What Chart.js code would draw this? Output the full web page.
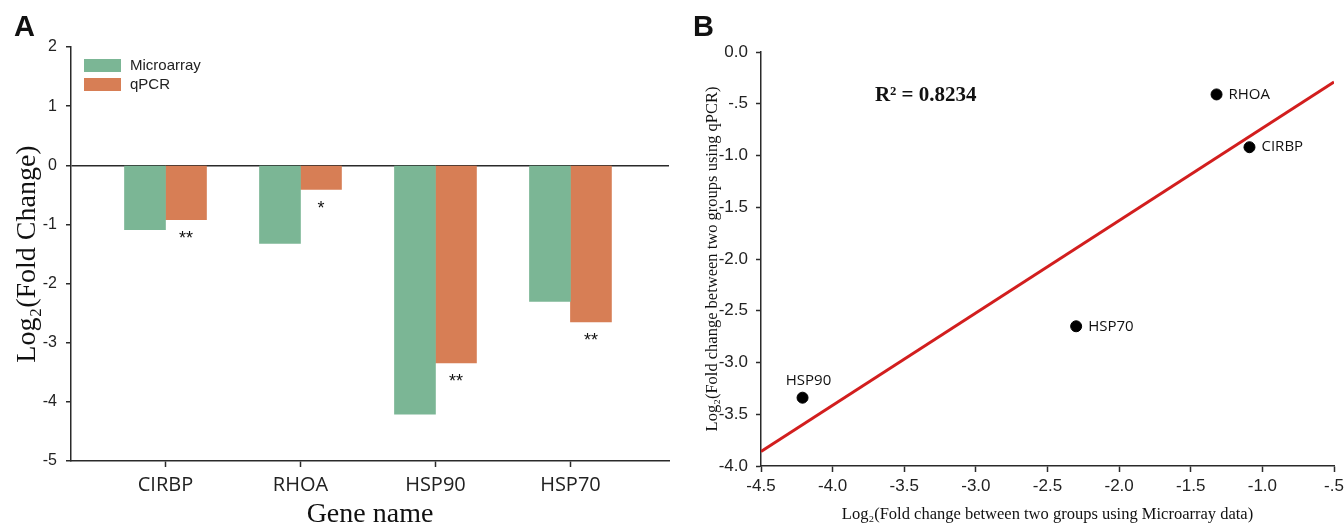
<!DOCTYPE html>
<html>
<head>
<meta charset="utf-8">
<script src="https://cdn.jsdelivr.net/npm/chart.js@4.4.1/dist/chart.umd.min.js"></script>
<style>
  body { margin: 0; background: #fff; overflow: hidden; }
  #wrap { position: relative; width: 1344px; height: 527px; overflow: hidden; }
  .panel { position: absolute; top: 0; }
  .letter { position: absolute; font: bold 29px 'Liberation Sans', Arial, sans-serif; color: #111; }
</style>
</head>
<body>
<div id="wrap">
  <div class="panel" style="left:0"><canvas id="barChart" width="680" height="527"></canvas></div>
  <div class="panel" style="left:680px"><canvas id="scatterChart" width="690" height="527"></canvas></div>
  <div class="letter" style="left:14px;top:10px">A</div>
  <div class="letter" style="left:693px;top:10px">B</div>
</div>
<script>
// data
const genes = ['CIRBP', 'RHOA', 'HSP90', 'HSP70'];
const microarray = [-1.09, -1.32, -4.21, -2.30];
const qpcr = [-0.92, -0.41, -3.34, -2.65];
const significance = ['**', '*', '**', '**'];
const fitLine = [{ x: -4.5, y: -3.86 }, { x: -0.5, y: -0.29 }];
const rSquaredText = 'R² = 0.8234';

const green = '#7bb695';
const orange = '#d77e55';
const axisColor = '#2a2a2a';
const sans = "'Liberation Sans', Arial, sans-serif";
const serif = "'Liberation Serif', 'Times New Roman', serif";
const labelSans = "'Open Sans', 'Noto Sans', sans-serif";

// legend drawn inside the plot area (top-left), like the original
const insideLegend = {
  id: 'insideLegend',
  afterDraw(chart) {
    const ctx = chart.ctx;
    const area = chart.chartArea;
    ctx.save();
    ctx.font = '15px ' + sans;
    ctx.textBaseline = 'middle';
    chart.data.datasets.forEach((ds, i) => {
      const top = area.top + 12 + i * 19;
      ctx.fillStyle = ds.backgroundColor;
      ctx.fillRect(area.left + 13, top, 37, 13);
      ctx.fillStyle = '#222';
      ctx.fillText(ds.label, area.left + 59, top + 7);
    });
    ctx.restore();
  }
};

// significance stars under the qPCR bars
const starsPlugin = {
  id: 'stars',
  afterDatasetsDraw(chart) {
    const ctx = chart.ctx;
    const meta = chart.getDatasetMeta(1);
    ctx.save();
    ctx.font = '18px ' + sans;
    ctx.fillStyle = '#111';
    ctx.textAlign = 'center';
    ctx.textBaseline = 'alphabetic';
    meta.data.forEach((bar, i) => {
      ctx.fillText(significance[i], bar.x, bar.y + 24);
    });
    ctx.restore();
  }
};

const barCtx = document.getElementById('barChart').getContext('2d');
new Chart(barCtx, {
  type: 'bar',
  data: {
    datasets: [
      {
        label: 'Microarray',
        data: microarray.map((v, i) => ({ x: i, y: v })),
        backgroundColor: green,
        barThickness: 41
      },
      {
        label: 'qPCR',
        data: qpcr.map((v, i) => ({ x: i, y: v })),
        backgroundColor: orange,
        barThickness: 41
      }
    ]
  },
  options: {
    responsive: false,
    animation: false,
    layout: { padding: { top: 47, right: 11, left: 0, bottom: 0 } },
    plugins: { legend: { display: false }, tooltip: { enabled: false } },
    scales: {
      x: {
        type: 'linear',
        min: -0.70,
        max: 3.73,
        offset: false,
        ticks: {
          stepSize: 1,
          includeBounds: false,
          autoSkip: false,
          maxRotation: 0,
          padding: 6,
          color: '#222',
          font: { family: labelSans, size: 20 },
          callback: v => genes[v] || ''
        },
        grid: { offset: false, drawOnChartArea: false, drawTicks: true, tickLength: 6, tickColor: axisColor, tickWidth: 1.5 },
        border: { display: true, color: axisColor, width: 1.5 },
        title: {
          display: true,
          text: 'Gene name',
          color: '#111',
          font: { family: serif, size: 28, lineHeight: 1 },
          padding: { top: 0, bottom: -2 }
        },
        afterFit: s => { s.height = 66; }
      },
      y: {
        min: -5,
        max: 2,
        ticks: {
          stepSize: 1,
          padding: 9,
          color: '#222',
          font: { family: sans, size: 16 }
        },
        grid: {
          drawTicks: true,
          tickLength: 5,
          tickColor: axisColor,
          tickWidth: 1.5,
          lineWidth: 1.5,
          color: c => (c.tick && c.tick.value === 0 ? axisColor : 'rgba(0,0,0,0)')
        },
        border: { display: true, color: axisColor, width: 1.5 },
        title: {
          display: true,
          text: 'Log₂(Fold Change)',
          color: '#111',
          font: { family: serif, size: 28, lineHeight: 1 },
          padding: { top: 14, bottom: 0 }
        },
        afterFit: s => { s.width = 71; }
      }
    }
  },
  plugins: [insideLegend, starsPlugin]
});

// gene names beside the scatter points, plus the R² note
const pointLabels = {
  id: 'pointLabels',
  afterDatasetsDraw(chart) {
    const ctx = chart.ctx;
    const meta = chart.getDatasetMeta(1);
    ctx.save();
    ctx.fillStyle = '#111';
    ctx.font = '15px ' + labelSans;
    meta.data.forEach((pt, i) => {
      if (genes[i] === 'HSP90') {
        ctx.textAlign = 'center';
        ctx.textBaseline = 'middle';
        ctx.fillText(genes[i], pt.x + 6, pt.y - 17);
      } else {
        ctx.textAlign = 'left';
        ctx.textBaseline = 'middle';
        ctx.fillText(genes[i], pt.x + 12, pt.y);
      }
    });
    const xs = chart.scales.x, ys = chart.scales.y;
    ctx.font = 'bold 21px ' + serif;
    ctx.textAlign = 'center';
    ctx.textBaseline = 'middle';
    ctx.fillText(rSquaredText, xs.getPixelForValue(-3.35), ys.getPixelForValue(-0.42));
    ctx.restore();
  }
};

const fmt = v => (v === -0.5 ? '-.5' : v.toFixed(1));

const scCtx = document.getElementById('scatterChart').getContext('2d');
new Chart(scCtx, {
  type: 'scatter',
  data: {
    datasets: [
      {
        type: 'line',
        label: 'fit',
        data: fitLine,
        borderColor: '#d21e1e',
        borderWidth: 3,
        pointRadius: 0,
        order: 2
      },
      {
        label: 'genes',
        data: genes.map((g, i) => ({ x: microarray[i], y: qpcr[i] })),
        backgroundColor: '#000',
        borderColor: '#000',
        pointRadius: 5.5,
        order: 1
      }
    ]
  },
  options: {
    responsive: false,
    animation: false,
    layout: { padding: { top: 52, right: 36, left: 0, bottom: 0 } },
    plugins: { legend: { display: false }, tooltip: { enabled: false } },
    scales: {
      x: {
        type: 'linear',
        min: -4.5,
        max: -0.5,
        ticks: {
          stepSize: 0.5,
          autoSkip: false,
          maxRotation: 0,
          padding: 4,
          color: '#222',
          font: { family: sans, size: 17 },
          callback: fmt
        },
        grid: { drawOnChartArea: false, drawTicks: true, tickLength: 6, tickColor: axisColor, tickWidth: 1.5 },
        border: { display: true, color: axisColor, width: 1.5 },
        title: {
          display: true,
          text: 'Log₂(Fold change between two groups using Microarray data)',
          color: '#111',
          font: { family: serif, size: 16.5, lineHeight: 1 },
          padding: { top: 0, bottom: 4 }
        },
        afterFit: s => { s.height = 61; }
      },
      y: {
        min: -4,
        max: 0,
        ticks: {
          stepSize: 0.5,
          padding: 8,
          color: '#222',
          font: { family: sans, size: 17 },
          callback: fmt
        },
        grid: { drawOnChartArea: false, drawTicks: true, tickLength: 5, tickColor: axisColor, tickWidth: 1.5 },
        border: { display: true, color: axisColor, width: 1.5 },
        title: {
          display: true,
          text: 'Log₂(Fold change between two groups using qPCR)',
          color: '#111',
          font: { family: serif, size: 16.5, lineHeight: 1 },
          padding: { top: 24, bottom: 0 }
        },
        afterFit: s => { s.width = 81; }
      }
    }
  },
  plugins: [pointLabels]
});
</script>
</body>
</html>
